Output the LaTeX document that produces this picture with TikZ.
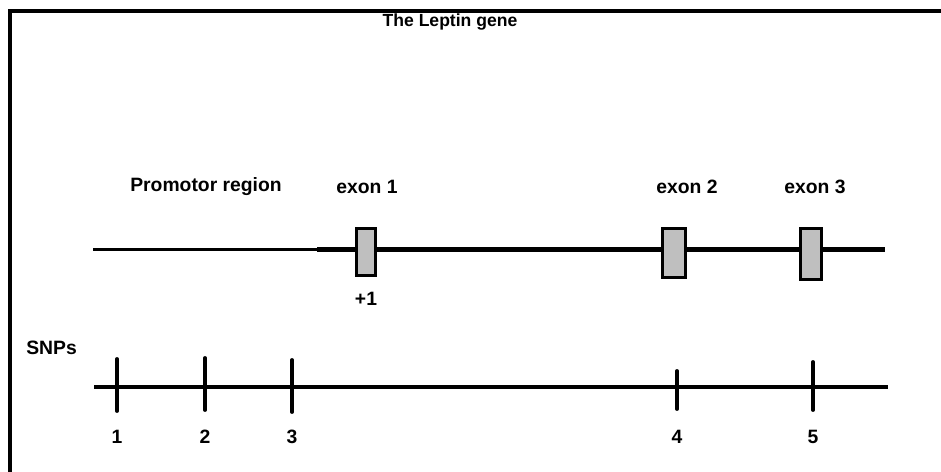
\documentclass[tikz,border=0pt]{standalone}
\usepackage{fontspec}
\setmainfont{Liberation Sans}

\begin{document}
\begin{tikzpicture}[x=0.02cm,y=-0.02cm,
    lbl/.style={font=\fontsize{11}{13}\selectfont\bfseries, inner sep=0pt},
    exonbox/.style={draw, line width=2pt, fill=black!25, inner sep=0pt}]
            \useasboundingbox (0,0) rectangle (941,472);
            % frame
            \draw[line width=2pt] (10,472) -- (10,11) -- (941,11);
            \node[lbl, font=\fontsize{10}{12}\selectfont\bfseries] (title) at (450,22) {The Leptin gene};
            % gene
            \node[lbl] (prom) at (206,187) {Promotor region};
            \node[lbl] (ex1lbl) at (367,187) {exon 1};
            \node[lbl] (ex2lbl) at (687,187) {exon 2};
            \node[lbl] (ex3lbl) at (815,187) {exon 3};
            \coordinate (gstart) at (93,249.5);
            \coordinate (gmid) at (317,249.5);
            \coordinate (gend) at (885,249.5);
            \draw[line width=1.5pt] (gstart) -- (gmid);
            \draw[line width=2.8pt] (gmid) -- (gend);
            \node[exonbox, minimum width=0.38cm, minimum height=0.94cm] (ex1) at (366,252) {};
            \node[exonbox, minimum width=0.46cm, minimum height=0.98cm] (ex2) at (674,253) {};
            \node[exonbox, minimum width=0.42cm, minimum height=1.02cm] (ex3) at (811,254) {};
            \node[lbl] (plus) at (366,299) {+1};
            % SNPs
            \node[lbl, anchor=west] (snps) at (26,348) {SNPs};
            \coordinate (sstart) at (94,387);
            \coordinate (send) at (888,387);
            \draw[line width=2.8pt] (sstart) -- (send);
            \foreach \n/\x/\t/\b in {1/117/359/411, 2/205/358/410, 3/292/360/412, 4/677/371/409, 5/813/362/410} {
                \coordinate (snp\n t) at (\x,\t);
                \coordinate (snp\n b) at (\x,\b);
                \draw[line width=2.2pt, line cap=round] (snp\n t) -- (snp\n b);
                \node[lbl] (snp\n) at (\x,437) {\n};
            }
        \end{tikzpicture}
\end{document}
